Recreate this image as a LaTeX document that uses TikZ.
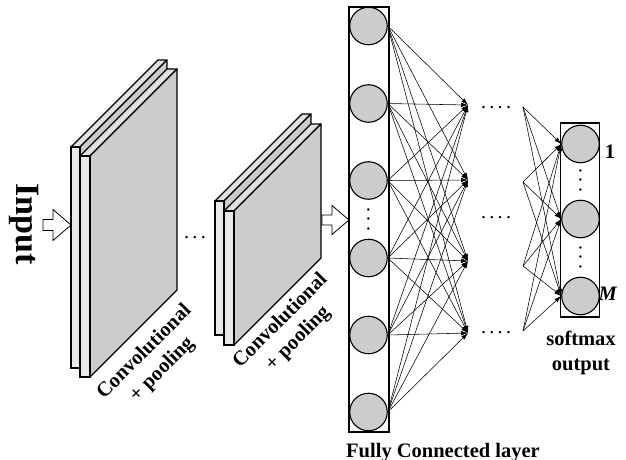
\documentclass[tikz,border=0pt]{standalone}
\usepackage{fontspec}
\setmainfont{Liberation Serif}
\usepackage{tikz}
\usetikzlibrary{arrows.meta}
\tikzstyle{neuron} = [draw=black, line width=1.1pt, circle, fill=black!20,
    minimum size=37.5pt, inner sep=0pt]
\tikzstyle{layerbox} = [draw=black, line width=1.3pt, rectangle, inner sep=0pt]
\tikzstyle{conn} = [line width=0.55pt, -{Latex[length=7pt,width=4.5pt]}]
\tikzstyle{slabfront} = [draw=black, line width=1.2pt, fill=black!9]
\tikzstyle{slabtop} = [draw=black, line width=1.2pt, fill=black!12, line join=round]
\tikzstyle{slabside} = [draw=black, line width=1.2pt, fill=black!20, line join=round]
\tikzstyle{hollowarrow} = [draw=black, line width=0.8pt, fill=white]
\tikzstyle{labeltext} = [font=\bfseries\fontsize{20.5}{25}\selectfont, inner sep=0pt]
\tikzstyle{dotstext} = [font=\fontsize{20}{24}\selectfont, inner sep=0pt]

% one feature map: x, y of the front top left corner, thickness, height
\newcommand{\convslab}[4]{%
    \filldraw[slabtop] (#1,#2) -- ++(#3,0) -- ++(87,-87) -- ++(-#3,0) -- cycle;
    \filldraw[slabside] (#1+#3,#2) -- ++(87,-87) -- ++(0,#4) -- ++(-87,87) -- cycle;
    \filldraw[slabfront] (#1,#2) rectangle ++(#3,#4);
}
% open block arrow, given by its tip
\newcommand{\blockarrow}[5]{%
    \filldraw[hollowarrow] (#1,#2) -- ++(-#3,-#4) -- ++(0,#4-#5) -- ++(-10,0)
        -- ++(0,2*#5) -- ++(10,0) -- ++(0,#4-#5) -- cycle;
}

\begin{document}
\begin{tikzpicture}[x=1pt, y=-1pt]
    \useasboundingbox (0,0) rectangle (626,460);

    % input
    \node[font=\bfseries\fontsize{34}{40}\selectfont, inner sep=0pt, rotate=-90] (input) at (24,224) {Input};
    \blockarrow{71}{225}{18}{15.5}{5.5}

    % first convolution + pooling block
    \convslab{71}{147}{9}{221}
    \convslab{80}{156}{10}{221}
    \node[labeltext, rotate=45, align=center] (conv1) at (153.5,361) {Convolutional\\+ pooling};

    \node[dotstext] (convdots) at (195,238) {.\,.\,.};

    % second convolution + pooling block
    \convslab{215}{201}{9}{134}
    \convslab{224}{211}{10}{134}
    \node[labeltext, rotate=45, align=center] (conv2) at (289.5,330) {Convolutional\\+ pooling};
    \blockarrow{349}{220}{17}{14.5}{5}

    % fully connected layer
    \node[layerbox, minimum width=40pt, minimum height=425pt] (fc) at (369,219.5) {};
    \foreach \i/\y in {1/26,2/103.5,3/180.5,4/258,5/335,6/412}
        \node[neuron] (f\i) at (368.5,\y) {};
    \node[dotstext, rotate=90] (fcdots) at (368.5,219) {.\hspace{4.5pt}.\hspace{4.5pt}.};
    \node[labeltext, anchor=base west] (fclabel) at (346,457) {Fully Connected layer};

    % hidden layers
    \coordinate (h1) at (468,105);
    \coordinate (h2) at (468,180);
    \coordinate (h3) at (468,261);
    \coordinate (h4) at (468,333);
    \foreach \i in {1,...,6}
        \foreach \j in {1,...,4}
            \draw[conn] (f\i.east) -- (h\j);
    \foreach \j/\y in {1/108,2/218,3/333}
        \node[dotstext] (hdots\j) at (496,\y) {.\,.\,.\,.};
    \coordinate (s1) at (523,107);
    \coordinate (s2) at (523,182);
    \coordinate (s3) at (523,266);
    \coordinate (s4) at (523,331);

    % softmax output
    \node[layerbox, minimum width=39pt, minimum height=194pt] (out) at (580,220) {};
    \foreach \j/\y in {1/144,2/219,3/296}
        \node[neuron] (o\j) at (580.5,\y) {};
    \node[dotstext, rotate=90] (odots1) at (580.5,180) {.\hspace{4.5pt}.\hspace{4.5pt}.};
    \node[dotstext, rotate=90] (odots2) at (580.5,257) {.\hspace{4.5pt}.\hspace{4.5pt}.};
    \foreach \i in {1,...,4}
        \foreach \j in {1,2,3}
            \draw[conn] (s\i) -- (o\j.west);
    \node[labeltext] (first) at (610,152) {1};
    \node[labeltext] (last) at (608,294) {\textit{M}};
    \node[labeltext, align=center] (softmax) at (581,353) {softmax\\output};
\end{tikzpicture}
\end{document}
